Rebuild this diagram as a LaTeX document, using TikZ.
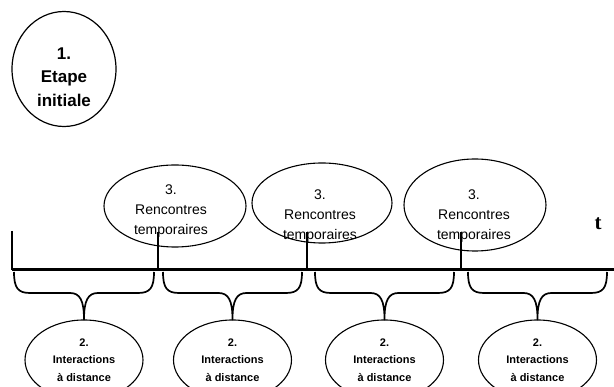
\documentclass[tikz,border=0pt]{standalone}
\usepackage{fontspec}
\setmainfont{Liberation Sans}
\newfontfamily\tfont{Liberation Serif}
\usetikzlibrary{shapes.geometric}
\tikzset{>=stealth}
\tikzset{
  rencontre/.style={draw, line width=1.1pt, ellipse, inner sep=0pt},
  texte/.style={align=center, inner sep=0pt, font=\fontsize{14}{20}\selectfont},
  interaction/.style={draw, line width=1.1pt, ellipse, minimum width=118pt, minimum height=80pt, inner sep=0pt, align=center, font=\bfseries\fontsize{11}{17.5}\selectfont},
  accolade/.style={line width=1.7pt, line join=round},
  trait/.style={line width=1.8pt}
}

\begin{document}
\begin{tikzpicture}[x=1pt,y=-1pt]
\useasboundingbox (0,0) rectangle (614,387);
\node[draw, line width=1.2pt, ellipse, minimum width=104pt, minimum height=115pt] (etape) at (64,69) {};
\node[align=center, font=\bfseries\fontsize{17}{23.5}\selectfont] (etapetxt) at (64,77) {1.\\Etape\\initiale};
\node[rencontre, minimum width=142pt, minimum height=82pt] (r1) at (175,206) {};
\node[rencontre, minimum width=140pt, minimum height=80pt] (r2) at (322,203) {};
\node[rencontre, minimum width=142pt, minimum height=92pt] (r3) at (475,205) {};
\node[texte] (r1txt) at (171,211) {3.\\Rencontres\\temporaires};
\node[texte] (r2txt) at (320,216) {3.\\Rencontres\\temporaires};
\node[texte] (r3txt) at (474,216) {3.\\Rencontres\\temporaires};
\node[font=\tfont\bfseries\fontsize{21}{21}\selectfont] (temps) at (598,224) {t};
\draw[line width=3pt] (12,270) -- (614,270);
\draw[line width=1.5pt] (12,231) -- (12,270);
\foreach \x [count=\i] in {158,307,461} {
  \coordinate (c\i) at (\x,270);
  \draw[trait] (c\i) -- ++(0,-38);
}
\foreach \xl/\xr [count=\i] in {14/154, 163/302, 315/454, 468/607} {
  \node[interaction] (d\i) at ({(\xl+\xr)/2},360) {2.\\Interactions\\à distance};
  \draw[accolade] (\xl,272) .. controls (\xl,288) and (\xl+4,293) .. (\xl+16,293)
    -- ([xshift=-14pt]d\i.north |- 0,293) .. controls ([xshift=-4pt]d\i.north |- 0,293) and ([yshift=19pt]d\i.north) .. (d\i.north)
    .. controls ([yshift=19pt]d\i.north) and ([xshift=4pt]d\i.north |- 0,293) .. ([xshift=14pt]d\i.north |- 0,293)
    -- (\xr-16,293) .. controls (\xr-4,293) and (\xr,288) .. (\xr,272);
}
\end{tikzpicture}
\end{document}
